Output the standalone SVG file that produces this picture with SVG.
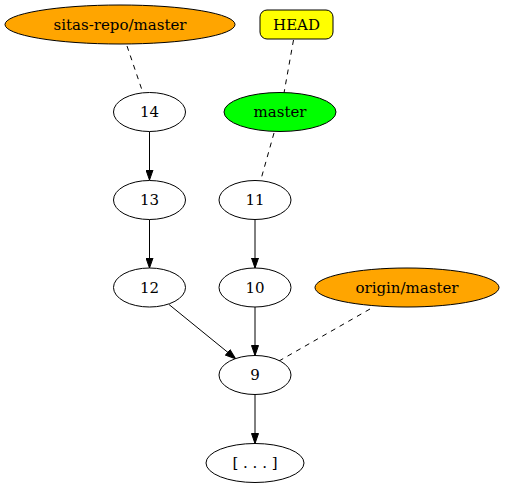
<svg xmlns="http://www.w3.org/2000/svg" width="505" height="488" viewBox="0 0 505 488">
  <style>
    .node ellipse, .node rect { stroke: #000; stroke-width: 1; }
    .node text { font-family: "DejaVu Serif", serif; font-size: 15px; text-anchor: middle; fill: #000; }
    .commit ellipse { fill: #fff; }
    .edge { stroke: #000; stroke-width: 1; fill: none; }
    .ref { stroke-dasharray: 5 5; }
  </style>
  <defs>
    <marker id="arrow" viewBox="0 0 11 8" refX="11" refY="4" markerWidth="11" markerHeight="8" markerUnits="userSpaceOnUse" orient="auto">
      <path d="M0.5,0.5 L10.5,4 L0.5,7.5 Z" fill="#000" stroke="#000" stroke-width="1"/>
    </marker>
  </defs>
  <rect width="505" height="488" fill="#fff"/>

  <g id="edges">
    <line class="edge ref" x1="127" y1="46" x2="143" y2="93"/>
    <line class="edge ref" x1="293.5" y1="40" x2="284" y2="93"/>
    <line class="edge ref" x1="274" y1="133" x2="260.5" y2="181"/>
    <line class="edge ref" x1="370" y1="309" x2="279" y2="361"/>
    <line class="edge" x1="149.5" y1="131.5" x2="149.5" y2="180.5" marker-end="url(#arrow)"/>
    <line class="edge" x1="149.5" y1="219.5" x2="149.5" y2="268.5" marker-end="url(#arrow)"/>
    <line class="edge" x1="255" y1="219.5" x2="255" y2="268.5" marker-end="url(#arrow)"/>
    <line class="edge" x1="169" y1="304.5" x2="236" y2="359" marker-end="url(#arrow)"/>
    <line class="edge" x1="255" y1="307" x2="255" y2="356" marker-end="url(#arrow)"/>
    <line class="edge" x1="255" y1="394.5" x2="255" y2="444" marker-end="url(#arrow)"/>
  </g>

  <g id="sitas-repo-master" class="node">
    <ellipse cx="120" cy="24.5" rx="115" ry="19.5" fill="#ffa500"/>
    <text x="120" y="29.5">sitas-repo/master</text>
  </g>
  <g id="HEAD" class="node">
    <rect x="260" y="10" width="73" height="29" rx="7" ry="7" fill="#ffff00"/>
    <text x="296.5" y="29.5">HEAD</text>
  </g>
  <g id="master" class="node">
    <ellipse cx="280" cy="112" rx="56" ry="19.5" fill="#00ff00"/>
    <text x="280" y="117">master</text>
  </g>
  <g id="c14" class="node commit">
    <ellipse cx="149.5" cy="112" rx="36" ry="19.5"/>
    <text x="149.5" y="117">14</text>
  </g>
  <g id="c13" class="node commit">
    <ellipse cx="149.5" cy="200" rx="36" ry="19.5"/>
    <text x="149.5" y="205">13</text>
  </g>
  <g id="c12" class="node commit">
    <ellipse cx="149.5" cy="287.5" rx="36" ry="19.5"/>
    <text x="149.5" y="292.5">12</text>
  </g>
  <g id="c11" class="node commit">
    <ellipse cx="255" cy="200" rx="36" ry="19.5"/>
    <text x="255" y="205">11</text>
  </g>
  <g id="c10" class="node commit">
    <ellipse cx="255" cy="287.5" rx="36" ry="19.5"/>
    <text x="255" y="292.5">10</text>
  </g>
  <g id="origin-master" class="node">
    <ellipse cx="407" cy="287.5" rx="92" ry="19.5" fill="#ffa500"/>
    <text x="407" y="292.5">origin/master</text>
  </g>
  <g id="c9" class="node commit">
    <ellipse cx="255" cy="375" rx="36" ry="19.5"/>
    <text x="255" y="380">9</text>
  </g>
  <g id="older" class="node commit">
    <ellipse cx="255" cy="463" rx="49" ry="19.5"/>
    <text x="255" y="468">[ . . . ]</text>
  </g>
</svg>
